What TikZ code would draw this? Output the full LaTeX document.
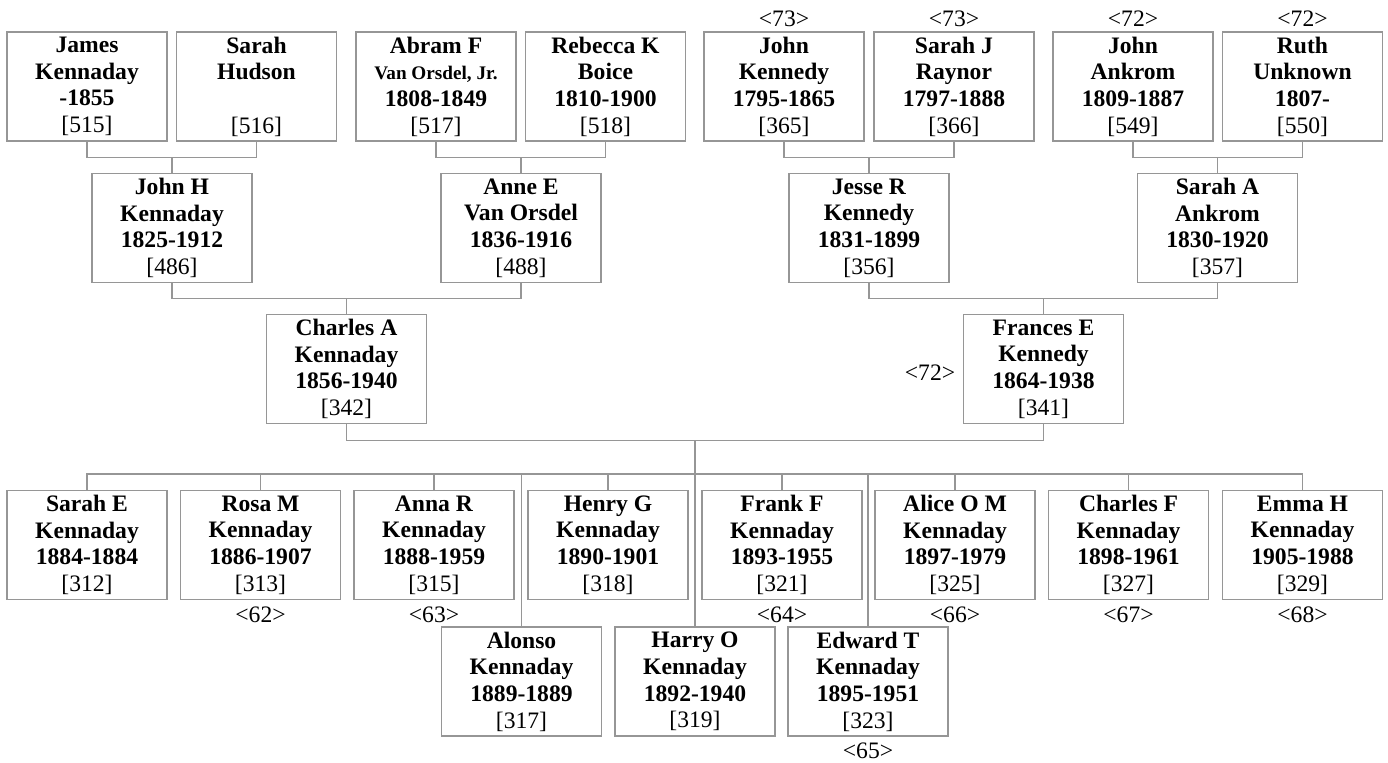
\documentclass[tikz,border=0pt]{standalone}
\usepackage{fontspec}
\setmainfont{Liberation Serif}
\definecolor{boxgray}{RGB}{150,150,150}
\newcommand\fsmain{\fontsize{11.8pt}{13.3pt}\selectfont}
\newcommand\pers[4]{\textbf{#1}\\\textbf{#2}\\\textbf{#3}\\{[#4]}}
\begin{document}
\begin{tikzpicture}[x=0.5pt,y=-0.5pt,
  pbox/.style={draw=boxgray, line width=0.6pt, minimum width=80pt, minimum height=54.5pt,
     inner sep=0pt, align=center, font=\fsmain},
  lbl/.style={inner sep=0pt, font=\fsmain},
  conn/.style={draw=boxgray, line width=0.6pt}]
\useasboundingbox (0,0) rectangle (1388,762);
% generation 1
\node[pbox] (james) at (87,86.5) {\pers{James}{Kennaday}{-1855}{515}};
\node[pbox] (sarahh) at (256.5,86.5) {\textbf{Sarah}\\\textbf{Hudson}\\\mbox{}\\{[516]}};
\node[pbox] (abram) at (436,86.5) {\textbf{Abram F}\\{\fontsize{9.6pt}{13.3pt}\selectfont\bfseries Van Orsdel, Jr.}\\\textbf{1808-1849}\\{[517]}};
\node[pbox] (rebecca) at (605.5,86.5) {\pers{Rebecca K}{Boice}{1810-1900}{518}};
\node[pbox] (johnk) at (784,86.5) {\pers{John}{Kennedy}{1795-1865}{365}};
\node[pbox] (sarahj) at (954,86.5) {\pers{Sarah J}{Raynor}{1797-1888}{366}};
\node[pbox] (johna) at (1133,86.5) {\pers{John}{Ankrom}{1809-1887}{549}};
\node[pbox] (ruth) at (1302.5,86.5) {\pers{Ruth}{Unknown}{1807-}{550}};
\node[lbl] (l1) at (784,19) {<73>};
\node[lbl] (l2) at (954,19) {<73>};
\node[lbl] (l3) at (1133,19) {<72>};
\node[lbl] (l4) at (1302.5,19) {<72>};
% generation 2
\node[pbox] (johnh) at (172,228) {\pers{John H}{Kennaday}{1825-1912}{486}};
\node[pbox] (anne) at (521,228) {\pers{Anne E}{Van Orsdel}{1836-1916}{488}};
\node[pbox] (jesse) at (869,228) {\pers{Jesse R}{Kennedy}{1831-1899}{356}};
\node[pbox] (saraha) at (1217.5,228) {\pers{Sarah A}{Ankrom}{1830-1920}{357}};
% generation 3
\node[pbox] (charlesa) at (346.5,369) {\pers{Charles A}{Kennaday}{1856-1940}{342}};
\node[pbox] (frances) at (1043.5,369) {\pers{Frances E}{Kennedy}{1864-1938}{341}};
\node[lbl] (l5) at (930,373) {<72>};
% children row 1
\node[pbox] (sarahe) at (87,545) {\pers{Sarah E}{Kennaday}{1884-1884}{312}};
\node[pbox] (rosa) at (260.5,545) {\pers{Rosa M}{Kennaday}{1886-1907}{313}};
\node[pbox] (anna) at (434,545) {\pers{Anna R}{Kennaday}{1888-1959}{315}};
\node[pbox] (henry) at (608,545) {\pers{Henry G}{Kennaday}{1890-1901}{318}};
\node[pbox] (frank) at (782,545) {\pers{Frank F}{Kennaday}{1893-1955}{321}};
\node[pbox] (alice) at (955,545) {\pers{Alice O M}{Kennaday}{1897-1979}{325}};
\node[pbox] (charlesf) at (1128.5,545) {\pers{Charles F}{Kennaday}{1898-1961}{327}};
\node[pbox] (emma) at (1302.5,545) {\pers{Emma H}{Kennaday}{1905-1988}{329}};
% children row 2
\node[pbox] (alonso) at (521.5,681.5) {\pers{Alonso}{Kennaday}{1889-1889}{317}};
\node[pbox] (harry) at (695,681.5) {\pers{Harry O}{Kennaday}{1892-1940}{319}};
\node[pbox] (edward) at (868,681.5) {\pers{Edward T}{Kennaday}{1895-1951}{323}};
% child labels
\node[lbl] (l62) at (260.5,615) {<62>};
\node[lbl] (l63) at (434,615) {<63>};
\node[lbl] (l64) at (782,615) {<64>};
\node[lbl] (l66) at (955,615) {<66>};
\node[lbl] (l67) at (1128.5,615) {<67>};
\node[lbl] (l68) at (1302.5,615) {<68>};
\node[lbl] (l65) at (868,751) {<65>};
% connectors: generation 1 -> 2
\draw[conn] (james.south) -- ++(0,16) -| (sarahh.south);
\draw[conn] (johnh.north) -- ++(0,-16);
\draw[conn] (abram.south) -- ++(0,16) -| (rebecca.south);
\draw[conn] (anne.north) -- ++(0,-16);
\draw[conn] (johnk.south) -- ++(0,16) -| (sarahj.south);
\draw[conn] (jesse.north) -- ++(0,-16);
\draw[conn] (johna.south) -- ++(0,16) -| (ruth.south);
\draw[conn] (saraha.north) -- ++(0,-16);
% generation 2 -> 3
\draw[conn] (johnh.south) -- ++(0,15) -| (anne.south);
\draw[conn] (charlesa.north) -- ++(0,-16);
\draw[conn] (jesse.south) -- ++(0,15) -| (saraha.south);
\draw[conn] (frances.north) -- ++(0,-16);
% generation 3 -> children
\draw[conn] (charlesa.south) -- ++(0,16) -| (frances.south);
\coordinate (fam) at (695,440);
\draw[conn] (fam) -- (harry.north);
\draw[conn] (sarahe.north) -- ++(0,-16) -| (emma.north);
\foreach \c in {rosa,anna,henry,frank,alice,charlesf}
  \draw[conn] (\c.north) -- ++(0,-16);
\draw[conn] (alonso.north) -- ++(0,-153);
\draw[conn] (edward.north) -- ++(0,-153);
\end{tikzpicture}
\end{document}
